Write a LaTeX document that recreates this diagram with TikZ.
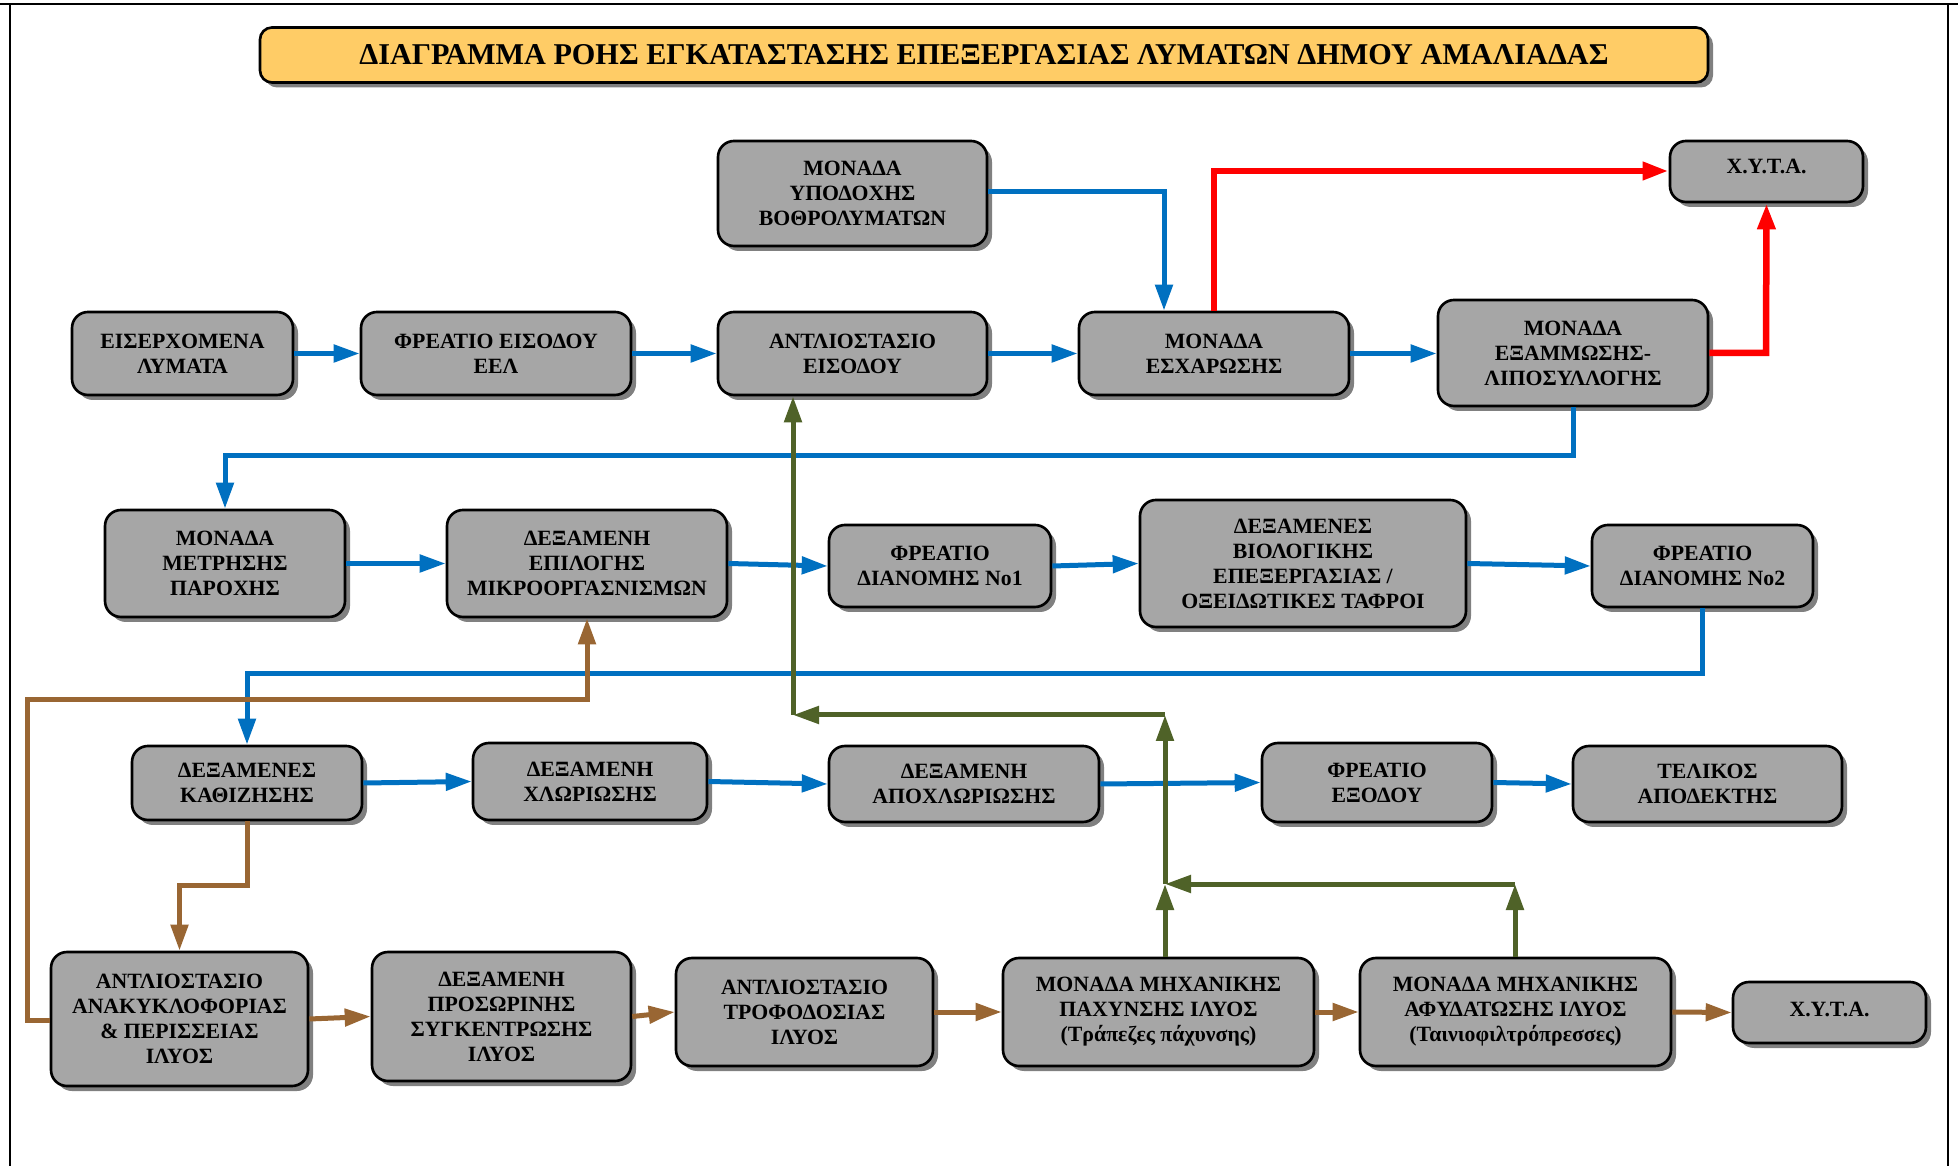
\documentclass[tikz,border=0pt]{standalone}
\usepackage{fontspec}
\setmainfont{Liberation Serif}
\usetikzlibrary{arrows.meta,shadows,calc}

\definecolor{boxgray}{HTML}{A6A6A6}
\definecolor{titlefill}{HTML}{FFCC66}
\definecolor{flowblue}{HTML}{0070C0}
\definecolor{flowred}{HTML}{FF0000}
\definecolor{sludge}{HTML}{996633}
\definecolor{gasgreen}{HTML}{4F6228}

% process unit given by its corner coordinates: name, x1, y1, x2, y2, text
\newcommand\flowbox[6]{%
  \pgfmathsetlengthmacro\bw{(#4-#2)*0.1mm}%
  \pgfmathsetlengthmacro\bh{(#5-#3)*0.1mm}%
  \node[unit, minimum width=\bw, minimum height=\bh] (#1) at ({(#2+#4)/2},{(#3+#5)/2}) {#6};%
}

\begin{document}
\begin{tikzpicture}[x=0.1mm,y=-0.1mm,
  unit/.style={draw=black, line width=0.75pt, fill=boxgray, rounded corners=1.6mm,
    align=center, inner sep=1pt,
    font=\fontsize{6.2pt}{7.1pt}\selectfont\bfseries,
    drop shadow={shadow xshift=0.5mm, shadow yshift=-0.5mm, fill=black!50, opacity=1}},
  tip/.style={-{Triangle[length=2.6mm,width=1.7mm]}},
  water/.style={tip, draw=flowblue, line width=0.5mm},
  waste/.style={tip, draw=flowred, line width=0.65mm},
  sludgeflow/.style={tip, draw=sludge, line width=0.5mm},
  gasflow/.style={tip, draw=gasgreen, line width=0.5mm},
]
\useasboundingbox (0,0) rectangle (1958,1166);

% page frame
\draw[line width=0.25mm] (0,4) -- (1958,4);
\draw[line width=0.25mm] (10,4) -- (10,1166);
\draw[line width=0.25mm] (1948,4) -- (1948,1166);

% title banner
\node[draw=black, line width=0.75pt, fill=titlefill, rounded corners=1.2mm,
  minimum width=144.8mm, minimum height=5.5mm,
  drop shadow={shadow xshift=0.5mm, shadow yshift=-0.5mm, fill=black!50, opacity=1},
  font=\fontsize{8.6pt}{10pt}\selectfont\bfseries] (title) at (984,55)
  {ΔΙΑΓΡΑΜΜΑ ΡΟΗΣ ΕΓΚΑΤΑΣΤΑΣΗΣ ΕΠΕΞΕΡΓΑΣΙΑΣ ΛΥΜΑΤΩΝ ΔΗΜΟΥ ΑΜΑΛΙΑΔΑΣ};

% inlet works
\flowbox{inflow}{72}{312}{293}{395}{ΕΙΣΕΡΧΟΜΕΝΑ\\ΛΥΜΑΤΑ}
\flowbox{inletpit}{361}{312}{631}{395}{ΦΡΕΑΤΙΟ ΕΙΣΟΔΟΥ\\ΕΕΛ}
\flowbox{inletpump}{718}{312}{987}{395}{ΑΝΤΛΙΟΣΤΑΣΙΟ\\ΕΙΣΟΔΟΥ}
\flowbox{screens}{1079}{312}{1349}{395}{ΜΟΝΑΔΑ\\ΕΣΧΑΡΩΣΗΣ}
\flowbox{grit}{1438}{300}{1708}{406}{ΜΟΝΑΔΑ\\ΕΞΑΜΜΩΣΗΣ-\\ΛΙΠΟΣΥΛΛΟΓΗΣ}
\flowbox{septage}{718}{141}{987}{246}{ΜΟΝΑΔΑ\\ΥΠΟΔΟΧΗΣ\\ΒΟΘΡΟΛΥΜΑΤΩΝ}
\flowbox{landfillA}{1670}{141}{1863}{202}{\raisebox{3pt}{Χ.Υ.Τ.Α.}}

% biological stage
\flowbox{meter}{105}{510}{345}{617}{ΜΟΝΑΔΑ\\ΜΕΤΡΗΣΗΣ\\ΠΑΡΟΧΗΣ}
\flowbox{selector}{447}{510}{727}{617}{ΔΕΞΑΜΕΝΗ\\ΕΠΙΛΟΓΗΣ\\ΜΙΚΡΟΟΡΓΑΣΝΙΣΜΩΝ}
\flowbox{split1}{829}{525}{1051}{607}{ΦΡΕΑΤΙΟ\\ΔΙΑΝΟΜΗΣ Νο1}
\flowbox{bio}{1140}{500}{1466}{627}{ΔΕΞΑΜΕΝΕΣ\\ΒΙΟΛΟΓΙΚΗΣ\\ΕΠΕΞΕΡΓΑΣΙΑΣ /\\ΟΞΕΙΔΩΤΙΚΕΣ ΤΑΦΡΟΙ}
\flowbox{split2}{1592}{525}{1813}{607}{ΦΡΕΑΤΙΟ\\ΔΙΑΝΟΜΗΣ Νο2}

% final treatment
\flowbox{settle}{132}{746}{362}{820}{ΔΕΞΑΜΕΝΕΣ\\ΚΑΘΙΖΗΣΗΣ}
\flowbox{chlor}{473}{743}{707}{820}{ΔΕΞΑΜΕΝΗ\\ΧΛΩΡΙΩΣΗΣ}
\flowbox{dechlor}{829}{746}{1099}{822}{ΔΕΞΑΜΕΝΗ\\ΑΠΟΧΛΩΡΙΩΣΗΣ}
\flowbox{outpit}{1262}{743}{1492}{822}{ΦΡΕΑΤΙΟ\\ΕΞΟΔΟΥ}
\flowbox{receiver}{1573}{746}{1842}{822}{ΤΕΛΙΚΟΣ\\ΑΠΟΔΕΚΤΗΣ}

% sludge line
\flowbox{recirc}{51}{952}{308}{1086}{ΑΝΤΛΙΟΣΤΑΣΙΟ\\ΑΝΑΚΥΚΛΟΦΟΡΙΑΣ\\\& ΠΕΡΙΣΣΕΙΑΣ\\ΙΛΥΟΣ}
\flowbox{holding}{372}{952}{631}{1081}{ΔΕΞΑΜΕΝΗ\\ΠΡΟΣΩΡΙΝΗΣ\\ΣΥΓΚΕΝΤΡΩΣΗΣ\\ΙΛΥΟΣ}
\flowbox{feedpump}{676}{958}{933}{1066}{ΑΝΤΛΙΟΣΤΑΣΙΟ\\ΤΡΟΦΟΔΟΣΙΑΣ\\ΙΛΥΟΣ}
\flowbox{thicken}{1003}{958}{1314}{1066}{ΜΟΝΑΔΑ ΜΗΧΑΝΙΚΗΣ\\ΠΑΧΥΝΣΗΣ ΙΛΥΟΣ\\(Τράπεζες πάχυνσης)}
\flowbox{dewater}{1360}{958}{1671}{1066}{ΜΟΝΑΔΑ ΜΗΧΑΝΙΚΗΣ\\ΑΦΥΔΑΤΩΣΗΣ ΙΛΥΟΣ\\(Ταινιοφιλτρόπρεσσες)}
\flowbox{landfillB}{1733}{982}{1926}{1043}{\raisebox{2pt}{Χ.Υ.Τ.Α.}}

% routing points
\coordinate (septx) at (1164,0);
\coordinate (grity) at (0,456);
\coordinate (effy) at (0,674);
\coordinate (redy) at (0,171);
\coordinate (redx) at (1766,0);
\coordinate (s1) at (0,885);
\coordinate (ras1) at (27,1020);
\coordinate (ras2) at (27,700);
\coordinate (ras3) at (587,700);
\coordinate (gj) at (1165,884);
\coordinate (gt) at (1165,715);
\coordinate (gl) at (793,715);
\coordinate (gr) at (1515,884);

% water line
\draw[water] (inflow.east) -- (inletpit.west);
\draw[water] (inletpit.east) -- (inletpump.west);
\draw[water] (inletpump.east) -- (screens.west);
\draw[water] (screens.east) -- (grit.west |- screens.east);
\draw[water] (septage.east |- 0,192) -- (septx |- 0,192) -- (septx |- screens.north);
\draw[water] (grit.south) -- (grit.south |- grity) -- (meter.north |- grity) -- (meter.north);
\draw[water] (meter.east) -- (selector.west);
\draw[water] (selector.east) -- (split1.west);
\draw[water] (split1.east) -- (bio.west);
\draw[water] (bio.east) -- (split2.west);
\draw[water] (split2.south) -- (split2.south |- effy) -- (settle.north |- effy) -- (settle.north);
\draw[water] (settle.east) -- (chlor.west);
\draw[water] (chlor.east) -- (dechlor.west);
\draw[water] (dechlor.east) -- (outpit.west);
\draw[water] (outpit.east) -- (receiver.west);

% screenings and grit to landfill
\draw[waste] (screens.north) -- (screens.north |- redy) -- (landfillA.west |- redy);
\draw[waste] (grit.east) -- (redx |- grit.east) -- (landfillA.south);

% sludge line
\draw[sludgeflow] (settle.south) -- (settle.south |- s1) -- (recirc.north |- s1) -- (recirc.north);
\draw[sludgeflow] (recirc.west |- ras1) -- (ras1) -- (ras2) -- (ras3) -- (ras3 |- selector.south);
\draw[sludgeflow] (recirc.east) -- (holding.west);
\draw[sludgeflow] (holding.east) -- (feedpump.west);
\draw[sludgeflow] (feedpump.east) -- (thicken.west);
\draw[sludgeflow] (thicken.east) -- (dewater.west);
\draw[sludgeflow] (dewater.east) -- (landfillB.west);

% return liquors to the inlet pumping station
\draw[gasflow] (thicken.north -| gj) -- (gj);
\draw[gasflow] (dewater.north -| gr) -- (gr);
\draw[gasflow] (gr) -- (gj);
\draw[gasflow] (gj) -- (gt);
\draw[gasflow] (gt) -- (gl);
\draw[gasflow] (gl) -- (gl |- inletpump.south);
\end{tikzpicture}
\end{document}
